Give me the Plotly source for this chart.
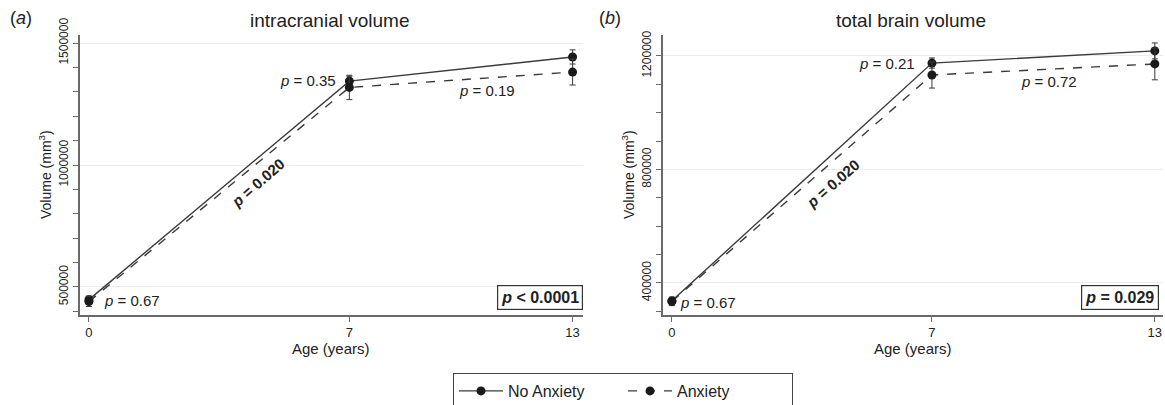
import plotly.graph_objects as go

# ---- data ----
ages = [0, 7, 13]
icv_no_anx = [448000, 1344000, 1443000]
icv_no_anx_err = [15000, 20000, 29000]
icv_anx = [440000, 1318000, 1381000]
icv_anx_err = [20000, 50000, 53000]

tbv_no_anx = [337000, 1175000, 1218000]
tbv_no_anx_err = [12000, 18000, 28000]
tbv_anx = [335000, 1133000, 1172000]
tbv_anx_err = [15000, 46000, 56000]

series_names = ["No Anxiety", "Anxiety"]
panel_titles = ["intracranial volume", "total brain volume"]
panel_labels = ["(<i>a</i>)", "(<i>b</i>)"]
icv_ticks = [500000, 1000000, 1500000]
icv_ticktext = ["500000", "1000000", "1500000"]
tbv_ticks = [400000, 800000, 1200000]
tbv_ticktext = ["400000", "800000", "1200000"]
x_ticks = [0, 7, 13]
x_ticktext = ["0", "7", "13"]

FONT = "Liberation Sans, Arial, sans-serif"
LINE = "#3a3a3a"
MARK = "#1a1a1a"
AXIS = "#6a6a6a"
GRID = "#ececec"
TXT = "#222222"

fig = go.Figure()

def add_panel(xa, ya, no_vals, no_err, anx_vals, anx_err, show):
    fig.add_trace(go.Scatter(
        x=ages, y=no_vals, mode="lines+markers", name=series_names[0],
        line=dict(color=LINE, width=1.4),
        marker=dict(color=MARK, size=9),
        error_y=dict(type="data", array=no_err, color=LINE, thickness=1, width=3),
        xaxis=xa, yaxis=ya, showlegend=show, legendrank=1))
    fig.add_trace(go.Scatter(
        x=ages, y=anx_vals, mode="lines+markers", name=series_names[1],
        line=dict(color=LINE, width=1.4, dash="dash"),
        marker=dict(color=MARK, size=9),
        error_y=dict(type="data", array=anx_err, color=LINE, thickness=1, width=3),
        xaxis=xa, yaxis=ya, showlegend=show, legendrank=2))

add_panel("x", "y", icv_no_anx, icv_no_anx_err, icv_anx, icv_anx_err, True)
add_panel("x2", "y2", tbv_no_anx, tbv_no_anx_err, tbv_anx, tbv_anx_err, False)

W, H = 1165, 405
ydom = [(H - 315) / H, (H - 35) / H]

xcommon = dict(showline=True, linecolor=AXIS, linewidth=1.5, showgrid=False, zeroline=False,
               tickvals=x_ticks, ticktext=x_ticktext, ticks="outside", ticklen=5, tickcolor=AXIS,
               tickfont=dict(size=13, color=TXT, family=FONT), automargin=False)
ycommon = dict(showline=True, linecolor=AXIS, linewidth=1.5, showgrid=True, gridcolor=GRID,
               gridwidth=1, zeroline=False, ticks="outside", ticklen=5, tickcolor=AXIS,
               tickangle=-90, tickfont=dict(size=12, color=TXT, family=FONT), automargin=False,
               minor=dict(dtick=100000, tick0=0, ticks="outside", ticklen=5, tickcolor=AXIS,
                          showgrid=False))

fig.update_layout(
    width=W, height=H,
    margin=dict(l=0, r=0, t=0, b=0, autoexpand=False),
    paper_bgcolor="white", plot_bgcolor="white",
    font=dict(family=FONT, color=TXT),
    xaxis=dict(domain=[80 / W, 583 / W], range=[-0.24, 13.28], anchor="y", **xcommon),
    yaxis=dict(domain=ydom, range=[385000, 1533000], tickvals=icv_ticks, ticktext=icv_ticktext,
               anchor="x", **ycommon),
    xaxis2=dict(domain=[663 / W, 1163 / W], range=[-0.24, 13.22], anchor="y2", **xcommon),
    yaxis2=dict(domain=ydom, range=[287000, 1274000], tickvals=tbv_ticks, ticktext=tbv_ticktext,
                anchor="x2", **ycommon),
    legend=dict(orientation="h", x=623 / W, xanchor="center", y=(H - 373) / H, yanchor="top",
                bordercolor="#444444", borderwidth=1, font=dict(size=16, color=TXT, family=FONT),
                entrywidth=110, itemwidth=44, traceorder="normal"),
    showlegend=True,
)

ann = []
def pa(x, y, text, **kw):
    d = dict(x=x / W, y=(H - y) / H, xref="paper", yref="paper", text=text, showarrow=False,
             xanchor="center", yanchor="middle",
             font=dict(size=kw.pop("size", 15), color=TXT, family=FONT))
    d.update(kw)
    ann.append(d)

# titles, panel labels
pa(329, 20, panel_titles[0], size=19)
pa(911, 20, panel_titles[1], size=19)
pa(21, 18, panel_labels[0], size=18)
pa(610, 18, panel_labels[1], size=18)
# axis titles
pa(45, 175, "Volume (mm<sup>3</sup>)", size=14, textangle=-90)
pa(628, 175, "Volume (mm<sup>3</sup>)", size=14, textangle=-90)
pa(331, 348, "Age (years)", size=15)
pa(913, 348, "Age (years)", size=15)

def da(xr, yr, x, y, text, **kw):
    d = dict(x=x, y=y, xref=xr, yref=yr, text=text, showarrow=False, yanchor="middle",
             font=dict(size=kw.pop("size", 15), color=TXT, family=FONT))
    d.update(kw)
    ann.append(d)

# panel a p-values
da("x", "y", 0.35, 446500, "<i>p</i> = 0.67", xanchor="left")
da("x", "y", 6.69, 1348500, "<i>p</i> = 0.35", xanchor="right")
da("x", "y", 9.89, 1307500, "<i>p</i> = 0.19", xanchor="left")
da("x", "y", 4.54, 930300, "<b><i>p</i> = 0.020</b>", textangle=-41, xanchor="center")
da("x domain", "y domain", 1.0, 18 / 280, "<b><i>p</i> &lt; 0.0001</b>", size=16,
   xanchor="right", bordercolor="#333333", borderwidth=1.2, borderpad=3, bgcolor="white")
# panel b p-values
da("x2", "y2", 0.16, 332800, "<i>p</i> = 0.67", xanchor="left")
da("x2", "y2", 6.6, 1175300, "<i>p</i> = 0.21", xanchor="right")
da("x2", "y2", 9.34, 1111850, "<i>p</i> = 0.72", xanchor="left")
da("x2", "y2", 4.33, 752300, "<b><i>p</i> = 0.020</b>", textangle=-41, xanchor="center")
da("x2 domain", "y2 domain", 0.992, 18 / 280, "<b><i>p</i> = 0.029</b>", size=16,
   xanchor="right", bordercolor="#333333", borderwidth=1.2, borderpad=3, bgcolor="white")

fig.update_layout(annotations=ann)
fig.write_html("out.html")
